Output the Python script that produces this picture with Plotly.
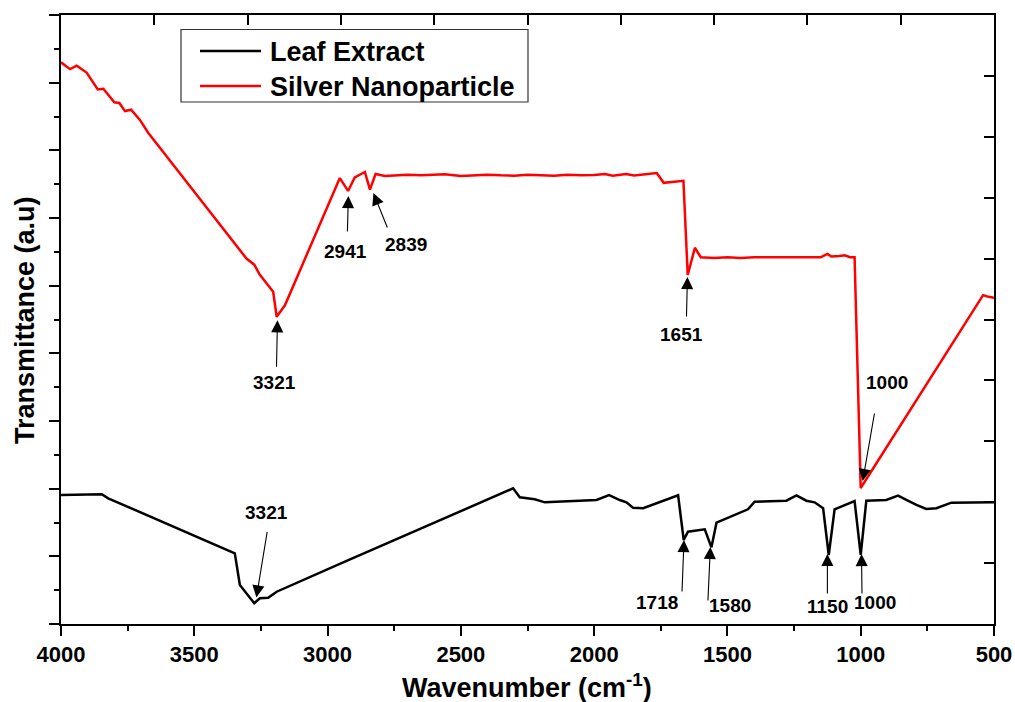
import plotly.graph_objects as go

# ---------------- data ----------------
leaf_wn = [4000, 3847, 3823, 3348, 3329, 3310, 3275, 3254, 3223, 3191, 2954, 2935,
           2304, 2279, 2223, 2185, 1991, 1944, 1904, 1879, 1854, 1816, 1685, 1664,
           1648, 1585, 1560, 1541, 1423, 1398, 1279, 1241, 1204, 1173, 1141, 1120,
           1098, 1023, 1000, 979, 904, 860, 823, 791, 754, 716, 660, 504, 500]
leaf_t = [1.906, 1.917, 1.858, 1.045, 0.576, 0.477, 0.306, 0.380, 0.389, 0.477, 0.882, 0.921,
          2.005, 1.872, 1.843, 1.798, 1.832, 1.906, 1.832, 1.798, 1.719, 1.710, 1.902, 1.241,
          1.364, 1.399, 1.133, 1.497, 1.695, 1.807, 1.822, 1.902, 1.822, 1.798, 1.710, 1.020,
          1.695, 1.818, 1.020, 1.822, 1.832, 1.896, 1.822, 1.759, 1.699, 1.710, 1.793, 1.798, 1.798]

ag_wn = [4000, 3966, 3941, 3904, 3862, 3841, 3800, 3781, 3760, 3737, 3704, 3673,
         3304, 3275, 3254, 3204, 3191, 3160, 2954, 2923, 2898, 2860, 2841, 2820, 2785,
         2740, 2700, 2650, 2600, 2560, 2500, 2450, 2400, 2350, 2300, 2250, 2200, 2150,
         2100, 2050, 2000, 1960, 1930, 1880, 1850, 1800, 1765, 1739, 1665, 1649, 1622,
         1600, 1550, 1500, 1450, 1400, 1350, 1300, 1250, 1200, 1150, 1125, 1110, 1080,
         1060, 1040, 1023, 1000, 541, 525, 504, 500]
ag_t = [8.30, 8.20, 8.25, 8.15, 7.90, 7.91, 7.71, 7.70, 7.58, 7.60, 7.45, 7.26,
        5.40, 5.31, 5.16, 4.91, 4.54, 4.71, 6.59, 6.40, 6.60, 6.68, 6.42, 6.65, 6.62,
        6.63, 6.64, 6.63, 6.635, 6.645, 6.62, 6.63, 6.64, 6.63, 6.625, 6.64, 6.63, 6.625,
        6.64, 6.63, 6.635, 6.65, 6.625, 6.65, 6.63, 6.645, 6.665, 6.52, 6.55, 5.16, 5.56,
        5.42, 5.41, 5.42, 5.41, 5.42, 5.42, 5.42, 5.43, 5.42, 5.42, 5.47, 5.43, 5.44,
        5.45, 5.42, 5.42, 2.01, 4.86, 4.84, 4.82, 4.82]

x_ticks = [4000, 3500, 3000, 2500, 2000, 1500, 1000, 500]
x_tick_text = ["4000", "3500", "3000", "2500", "2000", "1500", "1000", "500"]

# peak labels: text, arrow-head wavenumber, arrow-head value
peak_text = ["3321", "2941", "2839", "1651", "1000", "3321", "1718", "1580", "1150", "1000"]
peak_wn = [3188, 2922, 2828, 1650, 992.5, 3267, 1663, 1564, 1125, 997]
peak_t = [4.49, 6.325, 6.37, 5.128, 2.113, 0.392, 1.241, 1.138, 1.035, 1.035]

series_names = ["Leaf Extract", "Silver Nanoparticle"]

# ---------------- style / layout ----------------
W, H = 1015, 702
L, R, T, B = 61, 21, 15, 78
PW, PH = W - L - R, H - T - B
FONT = "Arial, 'Liberation Sans', Helvetica, sans-serif"

def px(x):
    return (x - L) / PW

def py(y):
    return (H - B - y) / PH

# arrow tail offsets (pixels) and label offsets (pixels, screen coords)
arrow_off = [(-1, 48), (-1, 37), (14.5, 36), (-1, 41), (12, -69),
             (11, -67), (-2, 53), (-2.5, 55), (0, 41), (0.5, 41)]
label_off = [(-2.5, 62), (-3, 55), (32.5, 52), (-6, 57), (24, -99),
             (10.5, -84.5), (-26.6, 62), (19.5, 58), (0.6, 53), (13.3, 49)]

fig = go.Figure()
fig.add_trace(go.Scatter(x=leaf_wn, y=leaf_t, mode="lines", name=series_names[0],
                         line=dict(color="#000000", width=2.5), showlegend=False))
fig.add_trace(go.Scatter(x=ag_wn, y=ag_t, mode="lines", name=series_names[1],
                         line=dict(color="#ff0000", width=2.5), showlegend=False))
# carrier for the decorative top/right axes
fig.add_trace(go.Scatter(x=[], y=[], xaxis="x2", yaxis="y2", showlegend=False,
                         hoverinfo="skip"))

annotations = []
for i, t in enumerate(peak_text):
    ax_, ay_ = arrow_off[i]
    lx, ly = label_off[i]
    annotations.append(dict(x=peak_wn[i], y=peak_t[i], xref="x", yref="y", text="",
                            showarrow=True, ax=ax_, ay=ay_, arrowhead=2, arrowsize=2.2,
                            arrowwidth=1.1, arrowcolor="#000000", standoff=0))
    annotations.append(dict(x=peak_wn[i], y=peak_t[i], xref="x", yref="y", text=t,
                            showarrow=False, xshift=lx, yshift=-ly,
                            xanchor="center", yanchor="middle",
                            font=dict(family=FONT, size=19, color="#000000", weight="bold")))

# axis titles
annotations.append(dict(x=px(527), y=py(686), xref="paper", yref="paper",
                        text="Wavenumber (cm<sup>-1</sup>)", showarrow=False,
                        xanchor="center", yanchor="middle",
                        font=dict(family=FONT, size=27, color="#000000", weight="bold")))
annotations.append(dict(x=px(25), y=py(320), xref="paper", yref="paper",
                        text="Transmittance (a.u)", showarrow=False, textangle=-90,
                        xanchor="center", yanchor="middle",
                        font=dict(family=FONT, size=27, color="#000000", weight="bold")))

# manual legend
leg_y = [52, 87]
leg_col = ["#000000", "#ff0000"]
shapes = [dict(type="rect", xref="paper", yref="paper", x0=px(181), x1=px(528),
               y0=py(102), y1=py(29.5), line=dict(color="#333333", width=1.2),
               fillcolor="#ffffff", layer="above")]
for i, nm in enumerate(series_names):
    shapes.append(dict(type="line", xref="paper", yref="paper", x0=px(200), x1=px(261),
                       y0=py(leg_y[i] - 1), y1=py(leg_y[i] - 1),
                       line=dict(color=leg_col[i], width=2.5), layer="above"))
    annotations.append(dict(x=px(268), y=py(leg_y[i]), xref="paper", yref="paper", text=nm,
                            showarrow=False, xanchor="left", yanchor="middle",
                            font=dict(family=FONT, size=27, color="#000000", weight="bold")))

axis_common = dict(showgrid=False, zeroline=False, linecolor="#000000", linewidth=2,
                   tickcolor="#000000", tickwidth=2, automargin=False)

fig.update_layout(
    template="none",
    width=W, height=H,
    margin=dict(l=L, r=R, t=T, b=B, pad=0, autoexpand=False),
    paper_bgcolor="#ffffff", plot_bgcolor="#ffffff",
    showlegend=False,
    xaxis=dict(range=[4000, 500], tickmode="array", tickvals=x_ticks, ticktext=x_tick_text,
               ticks="outside", ticklen=10, showline=True, mirror=True,
               tickfont=dict(family=FONT, size=22, color="#000000", weight="bold"),
               minor=dict(dtick=250, tick0=500, ticks="outside", ticklen=5, tickwidth=2,
                          tickcolor="#000000", showgrid=False),
               **axis_common),
    yaxis=dict(range=[0, 9], dtick=1, tick0=0, ticks="outside", ticklen=10, showline=True,
               mirror=True, showticklabels=False,
               minor=dict(dtick=0.5, tick0=0, ticks="outside", ticklen=5, tickwidth=2,
                          tickcolor="#000000", showgrid=False),
               **axis_common),
    xaxis2=dict(range=[0, 10], dtick=1, tick0=0, overlaying="x", side="top", anchor="y2",
                ticks="inside", ticklen=10, showticklabels=False, showline=False,
                **axis_common),
    yaxis2=dict(range=[0, 10], dtick=1, tick0=0, overlaying="y", side="right", anchor="x2",
                ticks="inside", ticklen=10, showticklabels=False, showline=False,
                **axis_common),
    annotations=annotations,
    shapes=shapes,
)

fig.write_html("out.html")
